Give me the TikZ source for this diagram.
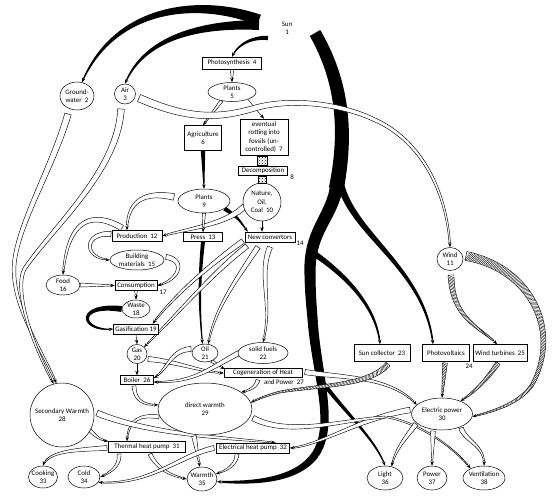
\documentclass[tikz,border=0pt]{standalone}
\usepackage{fontspec}
\setmainfont{Carlito}
\usetikzlibrary{arrows.meta,decorations.markings,shapes.geometric,patterns,calc}
\newcommand\lbl{\fontsize{6.9}{8.2}\selectfont}
\makeatletter
\def\tapA{2}\def\tapB{0.5}
\pgfkeys{/pgf/decoration/.cd, tstart/.store in=\tapA, tend/.store in=\tapB}
\def\tap@r{\pgfmathsetmacro\tapr{\tapB+(\tapA-\tapB)*max(0,1-(\pgfdecoratedcompleteddistance)/(\pgfdecoratedpathlength))}}
\def\tap@store{%
  \pgfpointtransformed{\pgfqpoint{0pt}{-\tapr pt}}%
  \xdef\taplow{\noexpand\pgfpathlineto{\noexpand\pgfqpoint{\the\pgf@x}{\the\pgf@y}}\unexpanded\expandafter{\taplow}}%
}
\pgfdeclaredecoration{taper}{initial}{%
  \state{initial}[width=0pt,next state=main]{%
    \gdef\taplow{}%
    \tap@r
    \pgfpathmoveto{\pgfqpoint{0pt}{\tapr pt}}%
    \tap@store
  }%
  \state{main}[width=1pt]{%
    \tap@r
    \pgfpathlineto{\pgfqpoint{0pt}{\tapr pt}}%
    \tap@store
  }%
  \state{final}{%
    \pgftransformreset
    \taplow
    \pgfpathclose
  }%
}
\makeatother
\newcommand\tapcalc[2]{%
  \pgfmathsetmacro\tapr{#2+(#1-#2)*max(0,1-(\pgfkeysvalueof{/pgf/decoration/mark info/distance from start})/(\pgfdecoratedpathlength))}%
  \pgfmathsetmacro\taph{0.45*\tapr}%
  \pgfmathsetmacro\tapv{0.9*\tapr}%
}
\tikzset{
  txt/.style={font=\lbl, align=center, inner sep=0pt},
  box/.style={draw, line width=0.5pt, fill=white, inner sep=0pt, rectangle},
  ell/.style={draw, line width=0.5pt, fill=white, inner sep=0pt, ellipse},
  dotsq/.style={draw, line width=0.4pt, pattern=crosshatch dots, inner sep=0pt},
  tip/.style={-{Stealth[length=4.5pt,width=3.4pt]}},
  arr/.style={draw, line width=0.45pt, tip},
  bfill/.style 2 args={decorate, decoration={taper,tstart=#1,tend=#2}, fill=black},
  bband/.style 2 args={arr, postaction={-, decorate, decoration={taper,tstart=#1,tend=#2,post length=3pt,post=moveto}, fill=black}},
  pipe/.style 2 args={arr, postaction={-, decorate, decoration={taper,tstart=#1,tend=#2,post length=3.5pt,post=moveto}, fill=white, draw=black, line width=0.45pt, line join=round}},
  pseg/.style 2 args={-, decorate, decoration={taper,tstart=#1,tend=#2}, fill=white, draw=black, line width=0.45pt, line join=round},
  hpipe/.style 2 args={pipe={#1}{#2}, postaction={-, decorate, decoration={markings,
       mark=between positions 1.5pt and -5pt step 1.5pt with {\tapcalc{#1}{#2}\draw[line width=0.35pt] (-\taph pt,-\tapv pt) -- (\taph pt,\tapv pt);}}}},
}
\newcommand\enode[5]{\node[ell,minimum width=#3pt,minimum height=#4pt] (#1) at (#2) {};}
\newcommand\bnode[5]{\node[box,minimum width=#3pt,minimum height=#4pt] (#1) at (#2) {};}
\newcommand\allnodes{%
\node[txt] (sun1) at (287,28) {Sun\\1};
\bnode{ps4}{232,63}{59}{12}{}
\enode{p5}{232,92}{48}{19}{}
\enode{gw2}{77,96}{34}{28}{}
\enode{air3}{125,94}{21}{20}{}
\bnode{ag6}{203,138}{37}{25}{}
\bnode{rot7}{264,137}{48}{36}{}
\bnode{dec8}{263,170.5}{49}{9}{}
\enode{p9}{204,201}{52}{24}{}
\enode{n10}{262,202}{38}{38}{}
\enode{w11}{450,259}{26}{23}{}
\bnode{pr12}{137,236}{50}{11}{}
\bnode{pre13}{203,237}{39}{9}{}
\bnode{nc14}{270,237}{50}{10}{}
\enode{bm15}{137,260}{54}{20}{}
\enode{f16}{63,285}{34}{20}{}
\bnode{c17}{136,285.5}{42}{10}{}
\enode{w18}{136,309}{28}{18}{}
\bnode{g19}{136,329}{45}{10}{}
\enode{gas20}{137,354}{20}{19}{}
\enode{oil21}{205,353}{26}{18}{}
\enode{sf22}{263,353}{50}{21}{}
\bnode{sc23}{382,353}{56}{17}{}
\bnode{pv24}{446,353}{47}{17}{}
\bnode{wt25}{500,353}{54}{17}{}
\bnode{b26}{137,380}{33}{9}{}
\bnode{cg27}{263,373}{78}{9}{}
\enode{sw28}{62,415}{64}{64}{}
\enode{dw29}{205,409}{94}{52}{}
\enode{ep30}{442,414}{61}{32}{}
\bnode{thp31}{147,447}{77}{11}{}
\bnode{ehp32}{253,448}{73}{10}{}
\enode{c33}{43,477}{29}{22}{}
\enode{c34}{84,477}{32}{22}{}
\enode{w35}{202,479}{30}{24}{}
\enode{l36}{385,478}{36}{24}{}
\enode{p37}{432,478}{30}{24}{}
\enode{v38}{484,478}{42}{24}{}
}
\begin{document}
\begin{tikzpicture}[x=1pt,y=-1pt]
\useasboundingbox (0,0) rectangle (553,495);
\fill[white] (0,0) rectangle (553,495);
% ---------- nodes defined first (drawn visibly on top at the end) ----------
\begin{scope}[every node/.append style={opacity=0}]
\allnodes
\end{scope}
% ---------- connectors ----------
\draw[pipe={1.6}{0.5}] (p5.-140) -- (ag6.north);
\draw[arr] (p5.-25) -- (rot7.north);
% black solar bands
\draw[bband={5.5}{0.6}] (259,20) .. controls (200,-2) and (115,5) .. (gw2.70);
\draw[bband={5}{0.6}] (259,25) .. controls (205,24) and (145,35) .. (air3.north);
\draw[bband={2.2}{0.5}] (268,38) .. controls (252,37) and (238,44) .. (ps4.north);
\path[bfill={6}{7.5}] (315,33) .. controls (342,80) and (348,130) .. (336,190);
\path[bfill={6.5}{5}] (336,190) .. controls (330,218) and (310,232) .. (310,270) .. controls (310,295) and (312,310) .. (313,325);
\path[bfill={5}{3.8}] (313,325) .. controls (318,380) and (335,425) .. (315,455);
\draw[bband={3.8}{1}] (315,455) .. controls (298,478) and (262,484) .. (w35.-10);
\coordinate (j1) at (336,190);
\coordinate (j2) at (313,325);
\coordinate (j3) at (315,455);
\fill[black] (j1) circle[radius=6.6pt] (j2) circle[radius=5pt] (j3) circle[radius=3.8pt];
\draw[bband={3.6}{0.7}] (340,182) .. controls (352,235) and (425,268) .. ($(pv24.north)+(-13,0)$);
\draw[bband={3}{0.7}] (312,252) .. controls (335,268) and (376,300) .. ($(sc23.north)+(-2,0)$);
\draw[bband={2.2}{0.6}] (324,384) .. controls (345,412) and (376,440) .. (l36.north);
\draw[bband={2.2}{0.5}] (ag6.south) -- (p9.north);
\draw[bband={2.2}{0.5}] (p9.-20) .. controls (238,218) .. ($(nc14.north west)+(3,0)$);
\draw[bband={2}{0.5}] (pre13.south) .. controls (199,280) and (199,310) .. (oil21.105);
\draw[bband={3}{0.5}] (w18.west) .. controls (75,303) and (80,332) .. (g19.west);
% pipes
\draw[pipe={3.8}{0.7}] (139,98) .. controls (185,118) and (215,120) .. (255,108) .. controls (290,98) and (340,103) .. (375,120) .. controls (420,140) and (447,190) .. (w11.north);
\draw[pipe={3.3}{0.7}] (68,114) .. controls (52,170) and (14,230) .. (14,270) .. controls (14,310) and (42,350) .. (sw28.100);
\draw[pipe={3.3}{0.7}] (121,109) .. controls (118,170) and (55,225) .. (25,268) .. controls (12,290) and (35,350) .. (sw28.105);
\draw[pipe={1.8}{0.6}] (ps4.south) -- (p5.north);
\draw[pipe={3.3}{0.7}] (174,197) .. controls (140,190) and (127,205) .. ($(pr12.north)+(-10,0)$);
\draw[pipe={3}{0.7}] (245,206) .. controls (225,225) and (190,228) .. (pr12.east);
\draw[arr] (n10.south) -- (n10.south |- nc14.north);
\draw[pipe={1.6}{0.5}] (p9.south) -- (pre13.north);
\draw[pipe={3}{0.7}] (122,228) .. controls (95,212) and (68,215) .. (f16.north);
\draw[pipe={2.6}{0.6}] (111,234) .. controls (84,232) and (82,258) .. (bm15.west);
\draw[pipe={2.6}{0.6}] (166,257) .. controls (186,260) and (180,280) .. (c17.east);
\draw[pipe={2}{0.6}] (f16.east) -- (c17.west);
\draw[pipe={1.4}{0.5}] (c17.south) -- (w18.north);
\draw[arr] (g19.south) -- (gas20.north);
\draw[arr] (gas20.south) -- (b26.north);
\draw[pipe={2.6}{0.6}] (243,241) .. controls (205,268) and (170,300) .. ($(g19.north east)+(-6,0)$);
\draw[pipe={2.6}{0.6}] (247,246) .. controls (210,275) and (172,320) .. (gas20.45);
\draw[pipe={2.6}{0.6}] (258,247) .. controls (236,280) and (214,310) .. (oil21.70);
\draw[pipe={2.6}{0.6}] (270,247) .. controls (258,275) and (273,305) .. (sf22.north);
\draw[pipe={2.6}{0.6}] (148,359) .. controls (180,362) and (200,372) .. (cg27.west);
\draw[pipe={1.5}{0.4}] (oil21.-50) -- ($(cg27.north west)+(1,1)$);
\draw[pipe={2.6}{0.6}] (191,349) .. controls (170,350) and (168,370) .. ($(b26.east)+(0,-2)$);
\draw[pipe={2.6}{0.6}] (239,353) .. controls (210,368) and (195,383) .. ($(b26.east)+(0,2)$);
\draw[pipe={2}{0.5}] (258,380) .. controls (256,386) and (252,390) .. (dw29.25);
\draw[pipe={2.6}{0.6}] (305,372) .. controls (340,378) and (390,375) .. (ep30.160);
\draw[hpipe={2.6}{0.6}] (388,364) .. controls (370,386) and (320,385) .. (280,392) .. controls (268,395) and (260,398) .. (dw29.8);
\draw[pipe={2}{0.5}] (134,386) .. controls (135,402) and (145,405) .. (dw29.175);
\draw[pipe={2}{0.5}] (159,417) .. controls (140,414) and (128,420) .. ($(thp31.north)+(-20,0)$);
\draw[pipe={2}{0.5}] (88,428) .. controls (95,436) and (100,440) .. (thp31.north west);
\draw[pipe={3}{0.6}] (97,413) .. controls (150,435) and (230,438) .. ($(ehp32.north east)+(-14,0)$);
\draw[pipe={2.4}{0.5}] (194,436) -- (w35.100);
\draw[pipe={2.5}{0.6}] (107,448) .. controls (70,450) and (48,452) .. (c33.north);
\draw[pipe={2}{0.5}] (119,454) .. controls (120,465) and (112,472) .. (c34.east);
\draw[pipe={2}{0.5}] (150,454) .. controls (158,470) and (172,476) .. (w35.west);
\draw[pipe={2}{0.5}] (237,454) .. controls (236,465) and (228,470) .. (w35.20);
\draw[pipe={2.5}{0.5}] (214,448) .. controls (180,455) and (150,486) .. (c34.-20);
\draw[pipe={2.8}{0.6}] (410,410) .. controls (360,418) and (320,446) .. (ehp32.east);
\path[pseg={2.8}{0.9}] (253,418) .. controls (290,438) and (350,418) .. (387,417);
\draw[pipe={0.9}{0.5}] (387,417) .. controls (420,423) and (455,448) .. (v38.145);
\draw[pipe={2.5}{0.5}] (416,424) .. controls (404,440) and (395,450) .. (l36.60);
\draw[pipe={2.4}{0.5}] (433,431) -- (p37.north);
\draw[pipe={2.4}{0.5}] (461,428) .. controls (466,442) and (485,445) .. (v38.north);
% wind (hatched)
\draw[hpipe={3}{0.6}] (451,275) .. controls (452,320) and (482,328) .. ($(wt25.north)+(-3,0)$);
\draw[hpipe={4.5}{0.6}] (466,256) .. controls (530,268) and (562,330) .. (532,385) .. controls (518,405) and (490,412) .. (ep30.-5);
\draw[hpipe={2.4}{0.6}] (445,363) -- (ep30.north);
\draw[hpipe={2.4}{0.6}] (498,363) .. controls (490,375) and (478,390) .. (ep30.35);
% ---------- visible nodes ----------
\allnodes
\node[dotsq, minimum width=10pt, minimum height=9pt] (q78) at (262,160.5) {};
\node[dotsq, minimum width=8pt, minimum height=7pt] (q810) at (262,179.5) {};
\node[txt] at (ps4) {Photosynthesis\ \ 4};
\node[txt] at (p5) {Plants\\5};
\node[txt] at (gw2) {Ground-\\water\ \ 2};
\node[txt] at (air3) {Air\\3};
\node[txt] at (ag6) {Agriculture\\6};
\node[txt] at (rot7) {eventual\\rotting into\\fossils (un-\\controlled)\ \ 7};
\node[txt] at (dec8) {Decomposition};
\node[txt] (l8) at (292,177) {8};
\node[txt] at (p9) {Plants\\9};
\node[txt] at (n10) {Nature,\\Oil,\\Coal\ \ 10};
\node[txt] at (w11) {Wind\\11};
\node[txt] at (pr12) {Production\ \ 12};
\node[txt] at (pre13) {Press\ \ 13};
\node[txt] at (nc14) {New convertors};
\node[txt] (l14) at (300,243) {14};
\node[txt] at (bm15) {Building\\materials\ \ 15};
\node[txt] at (f16) {Food\\16};
\node[txt] at (c17) {Consumption};
\node[txt] (l17) at (163,292) {17};
\node[txt] at (w18) {Waste\\18};
\node[txt] at (g19) {Gasification\ 19};
\node[txt] at (gas20) {Gas\\20};
\node[txt] at (oil21) {Oil\\21};
\node[txt] at (sf22) {solid fuels\\22};
\node[txt] at (sc23) {Sun collector\ \ 23};
\node[txt] at (pv24) {Photovoltaics};
\node[txt] (l24) at (469,366) {24};
\node[txt] at (wt25) {Wind turbines\ \ 25};
\node[txt] at (b26) {Boiler\ \ 26};
\node[txt] at (cg27) {Cogeneration of Heat};
\node[txt] (l27) at (284,382) {and Power\ \ 27};
\node[txt] at (sw28) {Secondary Warmth\\28};
\node[txt] at (dw29) {direct warmth\\29};
\node[txt] at (ep30) {Electric power\\30};
\node[txt] at (thp31) {Thermal heat pump\ \ 31};
\node[txt] at (ehp32) {Electrical heat pump\ \ 32};
\node[txt] at (c33) {Cooking\\33};
\node[txt] at (c34) {Cold\\34};
\node[txt] at (w35) {Warmth\\35};
\node[txt] at (l36) {Light\\36};
\node[txt] at (p37) {Power\\37};
\node[txt] at (v38) {Ventilation\\38};
\end{tikzpicture}
\end{document}
